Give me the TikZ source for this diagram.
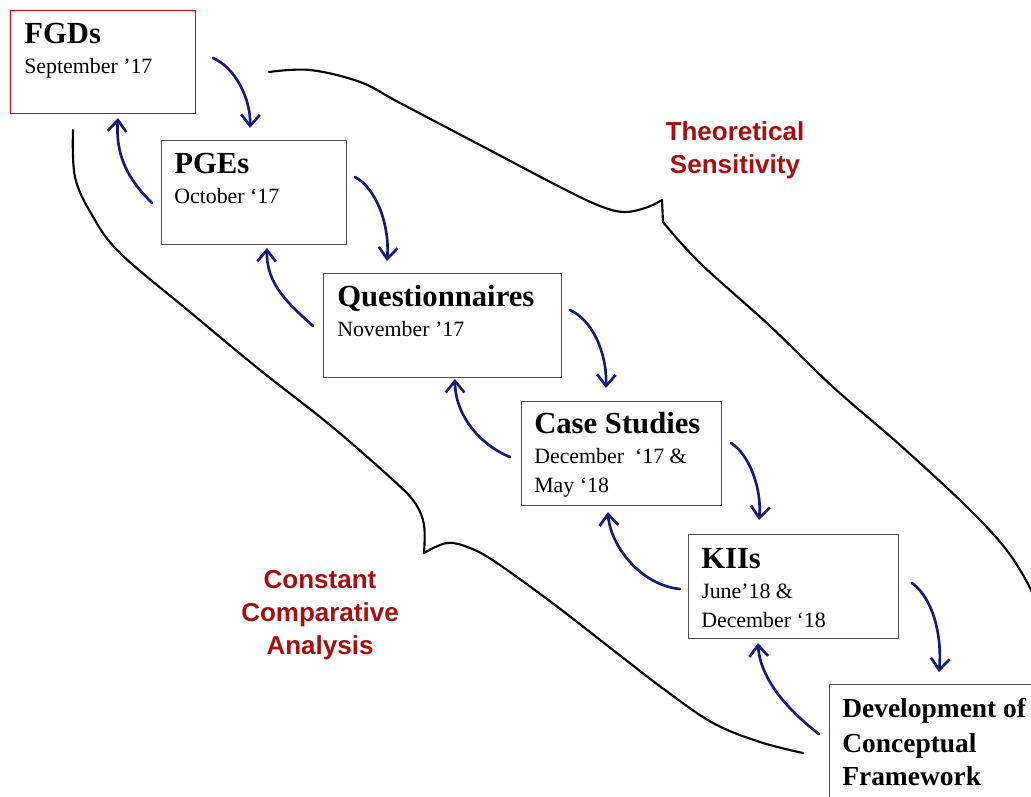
\documentclass[tikz,border=0pt]{standalone}
\usepackage{fontspec}
\setmainfont{Liberation Serif}
\newfontfamily\labelfont{Liberation Sans}
\usetikzlibrary{arrows.meta}
\definecolor{arrowblue}{RGB}{25,25,120}
\definecolor{labelred}{RGB}{165,15,15}
\definecolor{boxgray}{RGB}{80,80,80}
\tikzset{
  stagebox/.style={draw=boxgray, line width=1.1pt, rectangle, inner sep=0pt, anchor=north west},
  firstbox/.style={stagebox, draw=red!90!black, line width=0.9pt},
  stagetitle/.style={anchor=base west, inner sep=0pt, font=\fontsize{23}{27}\selectfont\bfseries},
  stagedate/.style={anchor=base west, inner sep=0pt, font=\fontsize{16.4}{22.2}\selectfont},
  finaltext/.style={anchor=base west, inner sep=0pt, font=\fontsize{20.6}{25.5}\selectfont\bfseries},
  flow/.style={draw=arrowblue, line width=2pt, line cap=round, -{Straight Barb[length=8.5pt,width=14pt,line width=2pt]}},
  brace/.style={draw=black, line width=1.6pt, line cap=round, line join=round},
  sidelabel/.style={text=labelred, align=center, font=\fontsize{19.5}{24.8}\selectfont\labelfont\bfseries}
}
\begin{document}
\begin{tikzpicture}[x=0.75pt, y=-0.75pt]
\clip (0,0) rectangle (1031,796);
\fill[white] (0,0) rectangle (1031,796);

% stage boxes
\node[firstbox, minimum width=138.75pt, minimum height=77.25pt] (fgd) at (10,10) {};
\node[stagebox, minimum width=138.75pt, minimum height=78pt] (pge) at (161,140) {};
\node[stagebox, minimum width=178.5pt, minimum height=78pt] (que) at (323,273) {};
\node[stagebox, minimum width=150pt, minimum height=78pt] (cas) at (521,401) {};
\node[stagebox, minimum width=157.5pt, minimum height=78pt] (kii) at (688,534) {};
\node[stagebox, minimum width=172.5pt, minimum height=105pt] (dev) at (829,684) {};

% stage texts, one node per line
\node[stagetitle] (fgdT) at (24,43) {FGDs};
\node[stagedate] (fgdD) at (24,73) {September ’17};
\node[stagetitle] (pgeT) at (174,173) {PGEs};
\node[stagedate] (pgeD) at (174,203) {October ‘17};
\node[stagetitle] (queT) at (337,306) {Questionnaires};
\node[stagedate] (queD) at (337,336) {November ’17};
\node[stagetitle] (casT) at (534,433) {Case Studies};
\node[stagedate] (casD1) at (534,463) {December\ \ ‘17 \&};
\node[stagedate] (casD2) at (534,492) {May ‘18};
\node[stagetitle] (kiiT) at (701,568) {KIIs};
\node[stagedate] (kiiD1) at (701,598) {June’18 \&};
\node[stagedate] (kiiD2) at (701,627) {December ‘18};
\node[finaltext] (devT1) at (842,717) {Development of};
\node[finaltext] (devT2) at (842,752) {Conceptual};
\node[finaltext] (devT3) at (842,785) {Framework};

% side labels
\node[sidelabel] (theo) at (735,150) {Theoretical\\Sensitivity};
\node[sidelabel] (cca) at (320,615) {Constant\\Comparative\\Analysis};

% hand-drawn enclosing curves
\draw[brace] plot[smooth, tension=0.6] coordinates {(269,72) (310,70) (360,82) (400,103) (480,145) (560,187) (600,206) (625,212) (648,207) (662,200)}
  -- (663,222) plot[smooth, tension=0.6] coordinates {(663,222) (700,263) (770,326) (833,387) (900,445) (967,507) (1005,548) (1027,582) (1035,600)};
\draw[brace] plot[smooth, tension=0.6] coordinates {(73,130) (75,177) (92,215) (120,253) (190,312) (260,370) (330,425) (393,480) (415,503) (424,525) (424,553)}
  -- (424,553) plot[smooth, tension=0.6] coordinates {(424,553) (447,543) (470,548) (497,563) (555,605) (613,650) (665,690) (713,723) (760,742) (803,753)};

% forward steps
\coordinate (d1s) at (213,58);   \coordinate (d1e) at (250,128);
\coordinate (d2s) at (355,177);  \coordinate (d2e) at (387,261);
\coordinate (d3s) at (570,310);  \coordinate (d3e) at (606,388);
\coordinate (d4s) at (731,443);  \coordinate (d4e) at (759,520);
\coordinate (d5s) at (912,583);  \coordinate (d5e) at (939,672);
\draw[flow] (d1s) .. controls (236,68) and (251,100) .. (d1e);
\draw[flow] (d2s) .. controls (376,188) and (390,225) .. (d2e);
\draw[flow] (d3s) .. controls (592,320) and (607,352) .. (d3e);
\draw[flow] (d4s) .. controls (750,455) and (762,490) .. (d4e);
\draw[flow] (d5s) .. controls (935,600) and (942,640) .. (d5e);

% feedback steps
\coordinate (u1s) at (152,203);  \coordinate (u1e) at (118,118);
\coordinate (u2s) at (313,326);  \coordinate (u2e) at (267,248);
\coordinate (u3s) at (510,457);  \coordinate (u3e) at (455,379);
\coordinate (u4s) at (680,589);  \coordinate (u4e) at (608,512);
\coordinate (u5s) at (819,734);  \coordinate (u5e) at (758,643);
\draw[flow] (u1s) .. controls (132,183) and (115,160) .. (u1e);
\draw[flow] (u2s) .. controls (290,305) and (266,285) .. (u2e);
\draw[flow] (u3s) .. controls (480,445) and (455,415) .. (u3e);
\draw[flow] (u4s) .. controls (640,585) and (610,545) .. (u4e);
\draw[flow] (u5s) .. controls (790,712) and (760,680) .. (u5e);
\end{tikzpicture}
\end{document}
